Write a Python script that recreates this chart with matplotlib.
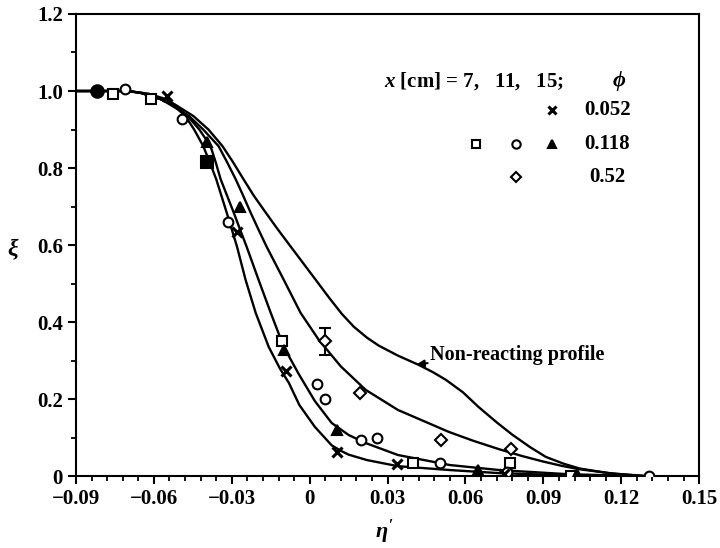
import matplotlib
matplotlib.use('Agg')
import matplotlib.pyplot as plt
from matplotlib.ticker import FixedLocator, MultipleLocator

plt.rcParams['font.family'] = 'Liberation Serif'
plt.rcParams['font.weight'] = 'bold'
plt.rcParams['mathtext.fontset'] = 'custom'
plt.rcParams['mathtext.rm'] = 'Liberation Serif:bold'
plt.rcParams['mathtext.it'] = 'Liberation Serif:italic:bold'

# fitted curves
a_x = [-0.09, -0.07, -0.065, -0.0575, -0.052, -0.0479, -0.0445, -0.041, -0.0385, -0.036, -0.034,
       -0.032, -0.028, -0.0247, -0.0208, -0.0158, -0.0115, -0.008, -0.004, 0.002, 0.0085, 0.012,
       0.015, 0.022, 0.034, 0.054, 0.073, 0.10, 0.13]
a_y = [1.0, 1.0, 0.995, 0.979, 0.96, 0.935, 0.9, 0.857, 0.815, 0.771, 0.728,
       0.685, 0.596, 0.51, 0.424, 0.336, 0.28, 0.242, 0.185, 0.128, 0.08, 0.066,
       0.056, 0.042, 0.026, 0.016, 0.008, 0.002, 0.0]

b_x = [-0.09, -0.07, -0.065, -0.0575, -0.052, -0.047, -0.0425, -0.0382, -0.0362, -0.0343, -0.0318,
       -0.0293, -0.0268, -0.0243, -0.0197, -0.015, -0.010, -0.0042, 0.002, 0.0085, 0.015, 0.0216,
       0.034, 0.054, 0.073, 0.10, 0.13]
b_y = [1.0, 1.0, 0.995, 0.979, 0.962, 0.935, 0.9, 0.857, 0.815, 0.771, 0.728,
       0.685, 0.64, 0.596, 0.51, 0.424, 0.336, 0.265, 0.195, 0.138, 0.107, 0.086,
       0.055, 0.029, 0.016, 0.005, 0.0]

c_x = [-0.09, -0.07, -0.065, -0.057, -0.0465, -0.041, -0.0351, -0.0318, -0.0285, -0.0256, -0.0228,
       -0.0197, -0.0166, -0.0133, -0.010, -0.0035, 0.0035, 0.012, 0.0216, 0.034, 0.0536, 0.063,
       0.073, 0.082, 0.09, 0.097, 0.104, 0.118, 0.13]
c_y = [1.0, 1.0, 0.995, 0.978, 0.935, 0.9, 0.857, 0.815, 0.771, 0.728, 0.685,
       0.64, 0.596, 0.553, 0.51, 0.424, 0.354, 0.285, 0.224, 0.172, 0.115, 0.092,
       0.07, 0.052, 0.038, 0.027, 0.018, 0.006, 0.0]

nr_x = [-0.09, -0.07, -0.062, -0.055, -0.0448, -0.039, -0.0336, -0.0295, -0.0255, -0.0215, -0.017,
        -0.0122, -0.0073, -0.0025, 0.0023, 0.0073, 0.0123, 0.017, 0.022, 0.0266, 0.034, 0.042,
        0.0475, 0.0525, 0.059, 0.065, 0.072, 0.078, 0.085, 0.091, 0.098, 0.104, 0.115, 0.13]
nr_y = [1.0, 1.0, 0.993, 0.978, 0.935, 0.9, 0.857, 0.815, 0.771, 0.728, 0.685,
        0.64, 0.596, 0.553, 0.51, 0.465, 0.422, 0.388, 0.36, 0.339, 0.313, 0.289,
        0.27, 0.25, 0.218, 0.18, 0.14, 0.108, 0.075, 0.05, 0.032, 0.02, 0.008, 0.0]

# measurements
sq_x = [-0.0756, -0.061, -0.0108, 0.0397, 0.077, 0.1007]
sq_y = [0.992, 0.98, 0.352, 0.034, 0.034, 0.0]
sq_fill_x = [-0.0397]
sq_fill_y = [0.815]

ci_x = [-0.071, -0.049, -0.0316, 0.0027, 0.0058, 0.0197, 0.026, 0.05, 0.076, 0.1308]
ci_y = [1.005, 0.927, 0.661, 0.24, 0.2, 0.094, 0.099, 0.034, 0.01, 0.0]
ci_fill_x = [-0.0818]
ci_fill_y = [1.0]

tri_x = [-0.0397, -0.027, -0.010, 0.0104, 0.065, 0.103]
tri_y = [0.867, 0.70, 0.328, 0.12, 0.016, 0.005]

cross_x = [-0.055, -0.028, -0.0093, 0.0104, 0.0336, 0.075]
cross_y = [0.987, 0.635, 0.273, 0.0625, 0.031, 0.005]

dia_x = [0.0058, 0.0193, 0.0505, 0.0775]
dia_y = [0.35, 0.216, 0.094, 0.07]
dia_err = [0.035, 0, 0, 0]

x_ticks = [-0.09, -0.06, -0.03, 0, 0.03, 0.06, 0.09, 0.12, 0.15]
x_labels = ['\u22120.09', '\u22120.06', '\u22120.03', '0', '0.03', '0.06', '0.09', '0.12', '0.15']
y_ticks = [0, 0.2, 0.4, 0.6, 0.8, 1.0, 1.2]
y_labels = ['0', '0.2', '0.4', '0.6', '0.8', '1.0', '1.2']

fig = plt.figure(figsize=(7.2, 5.48), dpi=100)
ax = fig.add_axes([0.1056, 0.131, 0.8654, 0.8435])

lw = 1.7
for xs, ys in [(a_x, a_y), (b_x, b_y), (c_x, c_y), (nr_x, nr_y)]:
    ax.plot(xs, ys, color='black', lw=lw, solid_joinstyle='round', solid_capstyle='round')

mk = dict(linestyle='none', color='black', markeredgewidth=1.5, zorder=3)
ax.plot(sq_x, sq_y, marker='s', markersize=7, markerfacecolor='white', **mk)
ax.plot(sq_fill_x, sq_fill_y, marker='s', markersize=8, markerfacecolor='black', **mk)
ax.plot(ci_x, ci_y, marker='o', markersize=7, markerfacecolor='white', **mk)
ax.plot(ci_fill_x, ci_fill_y, marker='o', markersize=9, markerfacecolor='black', **mk)
ax.plot(tri_x, tri_y, marker='^', markersize=7, markerfacecolor='black', **mk)
ax.plot(cross_x, cross_y, marker='x', markersize=7, markeredgewidth=2.2,
        linestyle='none', color='black', zorder=3)
ax.errorbar(dia_x, dia_y, yerr=dia_err, fmt='D', markersize=6, markerfacecolor='white',
            markeredgecolor='black', markeredgewidth=1.5, ecolor='black', elinewidth=1.5,
            capsize=4, capthick=1.5, zorder=3)

# legend block drawn as text + markers
fs = 15
ax.text(0.0285, 1.026, r'$x$ [cm] = 7,   11,   15;', fontsize=fs, va='center', ha='left')
ax.text(0.119, 1.026, r'$\phi$', fontsize=fs + 1, va='center', ha='center')
ax.plot([0.0934], [0.9505], marker='x', markersize=6, markeredgewidth=2.2, color='black')
ax.text(0.1057, 0.9505, '0.052', fontsize=fs, va='center', ha='left')
ax.plot([0.064], [0.862], marker='s', markersize=6, markerfacecolor='white', **mk)
ax.plot([0.0795], [0.862], marker='o', markersize=6, markerfacecolor='white', **mk)
ax.plot([0.0934], [0.862], marker='^', markersize=6, markerfacecolor='black', **mk)
ax.text(0.1057, 0.862, '0.118', fontsize=fs, va='center', ha='left')
ax.plot([0.0795], [0.776], marker='D', markersize=5, markerfacecolor='white', **mk)
ax.text(0.1075, 0.776, '0.52', fontsize=fs, va='center', ha='left')

ax.annotate('Non-reacting profile', xy=(0.0413, 0.291), xytext=(0.0465, 0.315),
            fontsize=fs - 0.5, va='center', ha='left',
            arrowprops=dict(arrowstyle='-|>', color='black', lw=1.5,
                            shrinkA=0, shrinkB=0, mutation_scale=10))

ax.set_xlim(-0.09, 0.15)
ax.set_ylim(0, 1.2)
ax.xaxis.set_major_locator(FixedLocator(x_ticks))
ax.xaxis.set_minor_locator(MultipleLocator(0.006))
ax.yaxis.set_major_locator(FixedLocator(y_ticks))
ax.yaxis.set_minor_locator(FixedLocator([0.1, 0.3, 0.5, 0.7, 0.9, 1.1]))
ax.set_xticklabels(x_labels)
ax.set_yticklabels(y_labels)
ax.tick_params(axis='both', which='major', direction='out', length=6, width=1.5,
               labelsize=fs, top=False, right=False)
ax.tick_params(axis='both', which='minor', direction='out', length=3.5, width=1.3,
               top=False, right=False)
for s in ax.spines.values():
    s.set_linewidth(1.5)

ax.set_xlabel(r"$\eta'$", fontsize=fs + 1)
ax.xaxis.set_label_coords(0.495, -0.09)
ax.set_ylabel(r'$\xi$', fontsize=fs + 2, rotation=0, va='center')
ax.yaxis.set_label_coords(-0.1, 0.49)

fig.savefig('out.png', dpi=100)
